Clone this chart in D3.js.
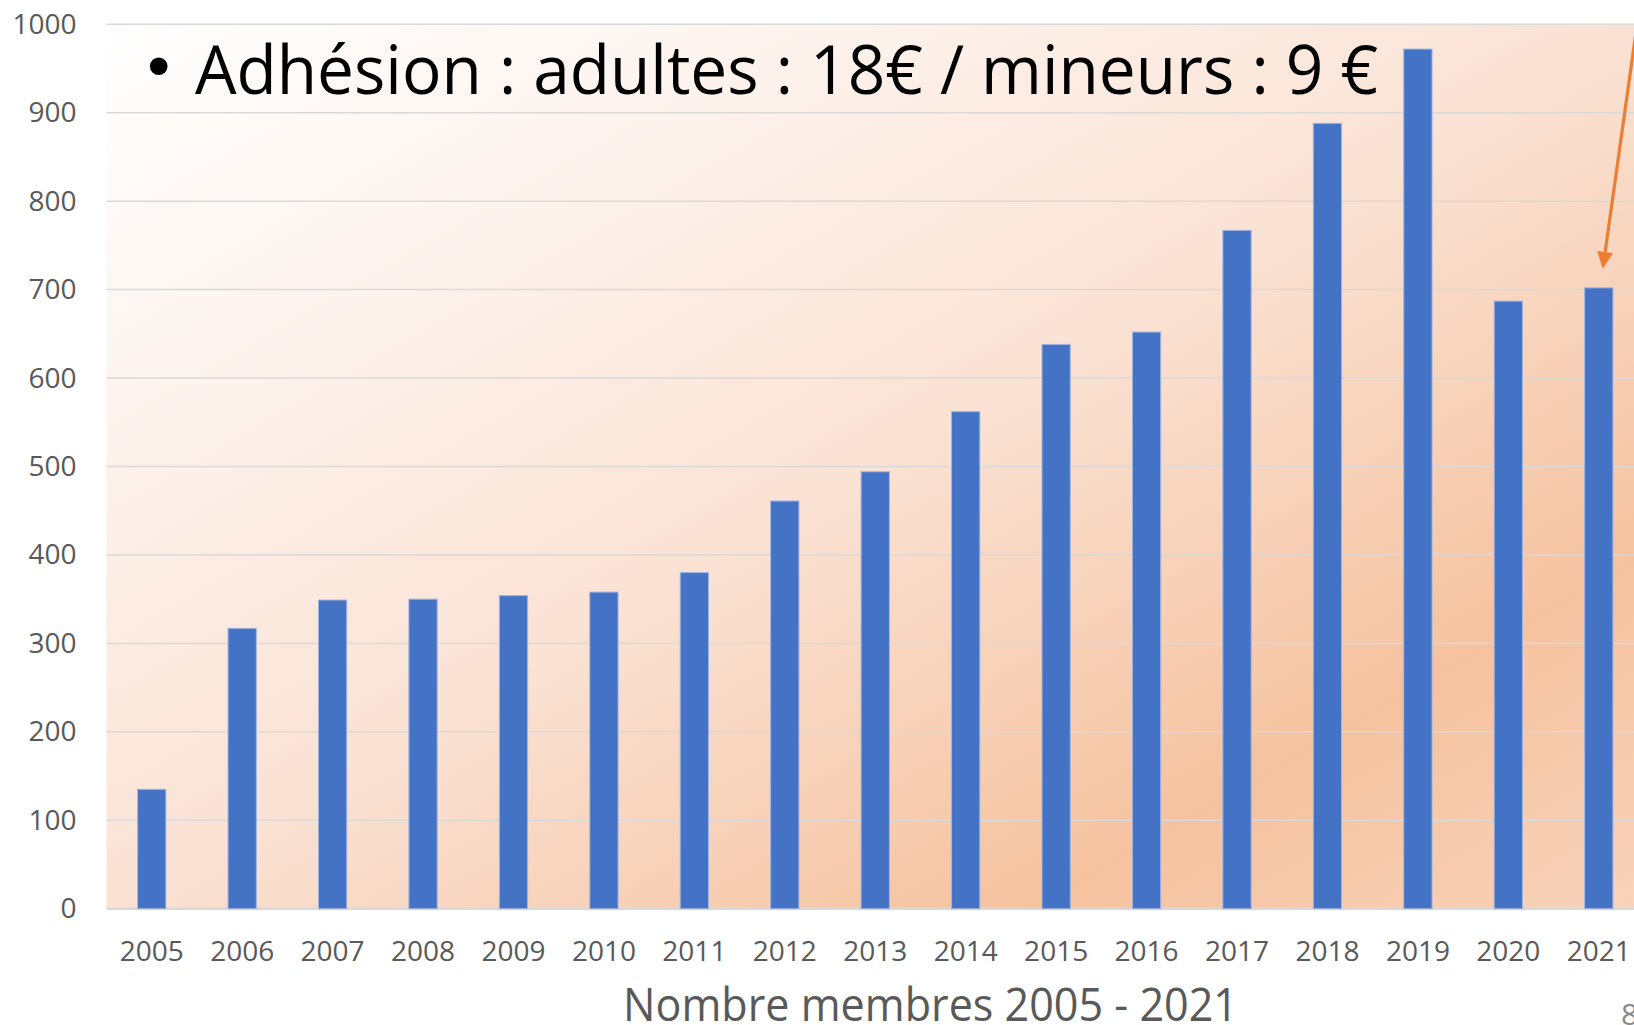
<!DOCTYPE html>
<html>
<head>
<meta charset="utf-8">
<script src="https://cdn.jsdelivr.net/npm/d3@7"></script>
<style>
  html, body { margin: 0; padding: 0; background: #fff; overflow: hidden; }
  svg { display: block; font-family: "Open Sans", sans-serif; }
  .axis text { fill: #595959; font-size: 28px; font-family: "Open Sans", sans-serif; }
</style>
</head>
<body>
<div id="chart"></div>
<script>
// data
let years = ["2005","2006","2007","2008","2009","2010","2011","2012","2013","2014","2015","2016","2017","2018","2019","2020","2021"];
let members = [135, 317, 349, 350, 354, 358, 380, 461, 494, 562, 638, 652, 767, 888, 972, 687, 702];
let yTicks = [0, 100, 200, 300, 400, 500, 600, 700, 800, 900, 1000];
let headline = "Adhésion : adultes : 18€ / mineurs : 9 €";
let chartTitle = "Nombre membres 2005 - 2021";
let slideNumber = "8";

let W = 1634, H = 1025;
let plot = {left: 106.5, right: 1644, top: 24.3, bottom: 908.7};

let svg = d3.select("#chart")
  .append("svg")
    .attr("width", W)
    .attr("height", H);

// background gradient of the plot area
let defs = svg.append("defs");
let grad = defs.append("linearGradient")
  .attr("id", "bg")
  .attr("x1", 0).attr("y1", 0)
  .attr("x2", 1).attr("y2", 1);
[[0, "#FFFFFF"], [0.25, "#FDF2EC"], [0.5, "#FAE2D4"], [0.8, "#F5C29F"], [1, "#F8D3BB"]]
  .forEach(function(s) {
    grad.append("stop").attr("offset", s[0]).attr("stop-color", s[1]);
  });

svg.append("rect")
  .attr("x", plot.left)
  .attr("y", plot.top)
  .attr("width", plot.right - plot.left)
  .attr("height", plot.bottom - plot.top)
  .attr("fill", "url(#bg)");

let x = d3.scaleBand()
  .domain(years)
  .range([plot.left, plot.right])
  .paddingInner(0.6875)
  .paddingOuter(0.34375);

let y = d3.scaleLinear()
  .domain([0, 1000])
  .range([plot.bottom, plot.top]);

// gridlines
svg.append("g")
  .selectAll("line")
  .data(yTicks)
  .enter()
  .append("line")
    .attr("x1", plot.left)
    .attr("x2", plot.right)
    .attr("y1", function(d) { return y(d); })
    .attr("y2", function(d) { return y(d); })
    .attr("stroke", "#D9D9D9")
    .attr("stroke-width", function(d) { return d === 0 ? 2.5 : 1.5; });

// y axis labels
let yAxis = svg.append("g")
  .attr("class", "axis")
  .attr("transform", "translate(" + plot.left + ",0)")
  .call(d3.axisLeft(y).tickValues(yTicks).tickSize(0).tickPadding(30).tickFormat(d3.format("d")));
yAxis.select(".domain").remove();

// bars
svg.append("g")
  .selectAll("rect")
  .data(years)
  .enter()
  .append("rect")
    .attr("x", function(d) { return x(d); })
    .attr("width", x.bandwidth())
    .attr("y", function(d, i) { return y(members[i]); })
    .attr("height", function(d, i) { return y(0) - y(members[i]); })
    .attr("fill", "#4472C4")
    .attr("stroke", "#9FB5E2")
    .attr("stroke-width", 1);

// x axis labels
let xAxis = svg.append("g")
  .attr("class", "axis")
  .attr("transform", "translate(0," + plot.bottom + ")")
  .call(d3.axisBottom(x).tickSize(0).tickPadding(32));
xAxis.select(".domain").remove();

// chart title
svg.append("text")
  .attr("x", 623)
  .attr("y", 1021)
  .attr("textLength", 615)
  .attr("lengthAdjust", "spacingAndGlyphs")
  .attr("fill", "#595959")
  .style("font-size", "46px")
  .text(chartTitle);

// headline with bullet
svg.append("circle")
  .attr("cx", 158.7)
  .attr("cy", 66.3)
  .attr("r", 8.8)
  .attr("fill", "#000");

svg.append("text")
  .attr("x", 195)
  .attr("y", 94.3)
  .attr("textLength", 1183)
  .attr("lengthAdjust", "spacingAndGlyphs")
  .attr("fill", "#000")
  .style("font-size", "67px")
  .text(headline);

// orange arrow pointing at the 2021 bar
let last = years.length - 1;
let tipX = x(years[last]) + x.bandwidth() / 2 + 4;
let tipY = y(members[last]) - 19;
let dirX = 30, dirY = -214;
let len = Math.sqrt(dirX * dirX + dirY * dirY);
let ux = dirX / len, uy = dirY / len;
let startT = (tipY + 5) / -uy;
let headLen = 17, headHalf = 8;
let baseX = tipX + ux * headLen, baseY = tipY + uy * headLen;

svg.append("line")
  .attr("x1", tipX + ux * startT)
  .attr("y1", tipY + uy * startT)
  .attr("x2", baseX)
  .attr("y2", baseY)
  .attr("stroke", "#ED7D31")
  .attr("stroke-width", 3.2);

svg.append("path")
  .attr("d", "M" + tipX + "," + tipY +
    "L" + (baseX - uy * headHalf) + "," + (baseY + ux * headHalf) +
    "L" + (baseX + uy * headHalf) + "," + (baseY - ux * headHalf) + "Z")
  .attr("fill", "#ED7D31");

// slide number, cut by the edge
svg.append("text")
  .attr("x", 1621)
  .attr("y", 1025)
  .attr("fill", "#898989")
  .style("font-size", "30px")
  .text(slideNumber);
</script>
</body>
</html>
